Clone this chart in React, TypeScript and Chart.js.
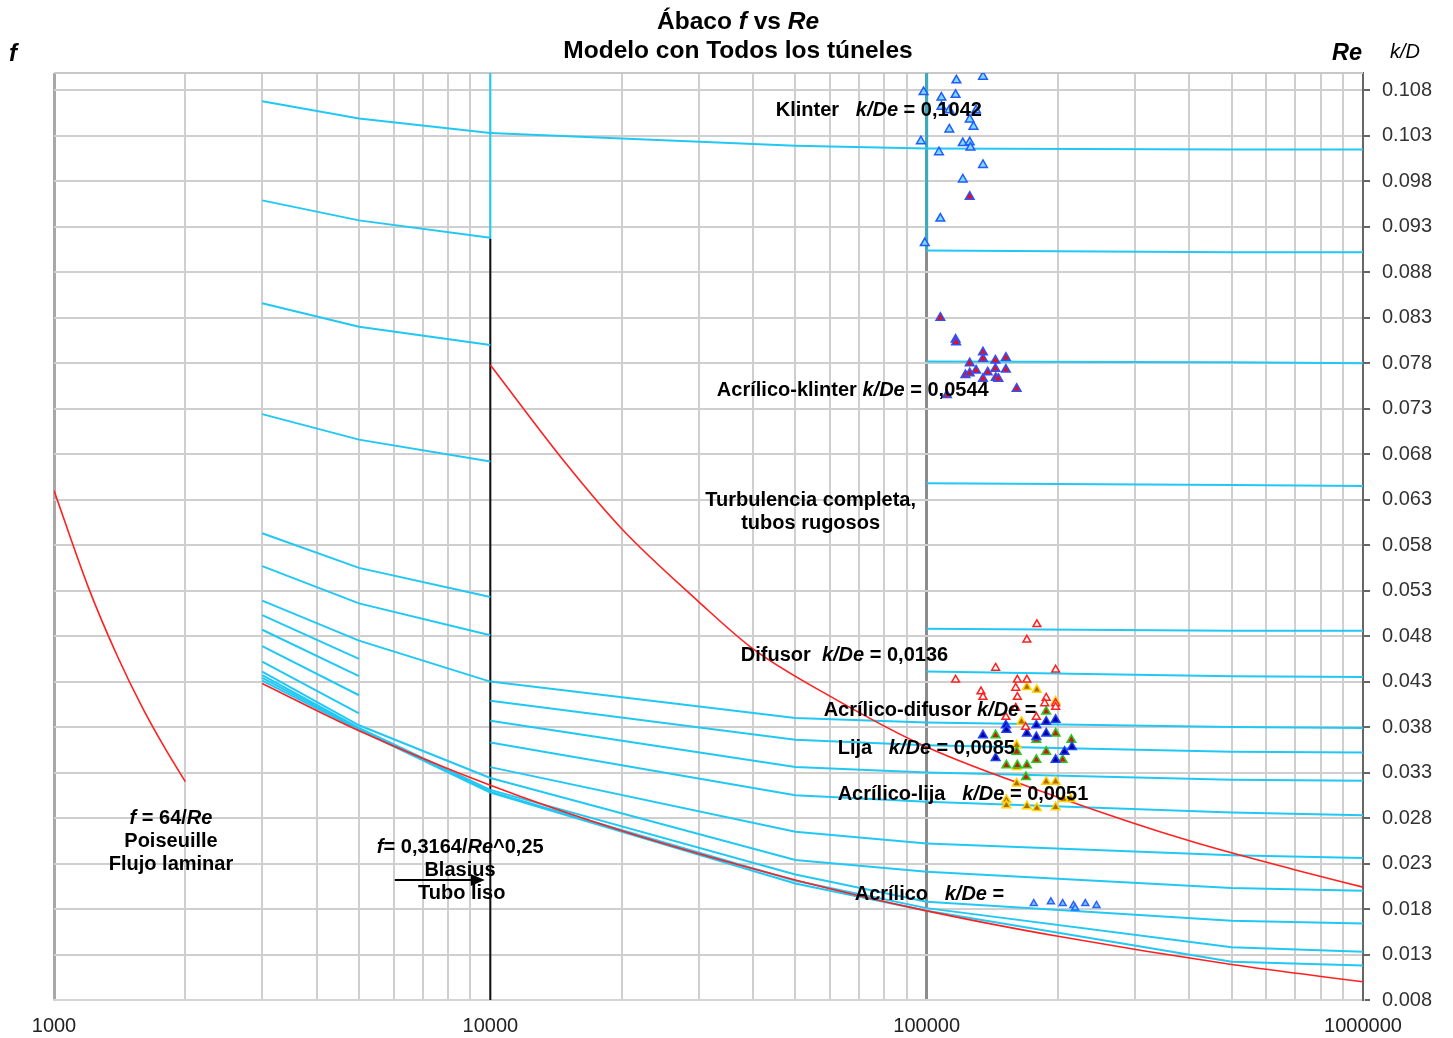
import { useEffect, useRef } from "react";
import { Chart, registerables } from "chart.js";

Chart.register(...registerables);

const FONT = '"Liberation Sans", Arial, Helvetica, sans-serif';

// ---------- axes ----------
const X_TICKS = [
  1000, 2000, 3000, 4000, 5000, 6000, 7000, 8000, 9000,
  10000, 20000, 30000, 40000, 50000, 60000, 70000, 80000, 90000,
  100000, 200000, 300000, 400000, 500000, 600000, 700000, 800000, 900000,
  1000000,
];
const X_LABELS = [1000, 10000, 100000, 1000000];
const Y_TICKS = [
  0.008, 0.013, 0.018, 0.023, 0.028, 0.033, 0.038, 0.043, 0.048, 0.053, 0.058,
  0.063, 0.068, 0.073, 0.078, 0.083, 0.088, 0.093, 0.098, 0.103, 0.108,
];
const Y_MIN = 0.008;
const Y_MAX = 0.1099;

// ---------- red reference curves ----------
const RE_POISEUILLE = [1000, 1200, 1400, 1600, 1800, 2000];
const F_POISEUILLE = [0.064, 0.0533, 0.0457, 0.04, 0.0356, 0.032];

const RE_BLASIUS = [3000, 5000, 10000, 20000, 50000, 100000, 200000, 500000, 1000000];
const F_BLASIUS = [0.0428, 0.0376, 0.0316, 0.0266, 0.0212, 0.0178, 0.015, 0.0119, 0.01];

const RE_BOUND = [10000, 15000, 20000, 30000, 40000, 60000, 100000, 200000, 400000, 700000, 1000000];
const F_BOUND = [0.0778, 0.0668, 0.0598, 0.0518, 0.0466, 0.0414, 0.0358, 0.0303, 0.0255, 0.0223, 0.0204];

// ---------- cyan curves, zone 3000-10000 ----------
const RE_A = [3000, 5000, 10000];
const F_A = [
  [0.1068, 0.1049, 0.1033],
  [0.0959, 0.0937, 0.0918],
  [0.0846, 0.082, 0.08],
  [0.0724, 0.0696, 0.0672],
  [0.0593, 0.0555, 0.0523],
  [0.0557, 0.0516, 0.0481],
  [0.0519, 0.0475, 0.043],
  [0.0441, 0.0382, 0.0324],
  [0.0437, 0.0379, 0.0311],
  [0.0434, 0.0378, 0.0309],
  [0.0431, 0.0377, 0.0308],
];
const RE_A_SHORT = [3000, 5000];
const F_A_SHORT = [
  [0.0503, 0.0455],
  [0.0487, 0.0436],
  [0.0469, 0.0415],
  [0.0452, 0.0395],
];

// ---------- cyan curves, zone 10000-100000 ----------
const RE_B = [10000, 50000, 100000];
const F_B = [
  [0.1033, 0.1019, 0.1016],
  [0.043, 0.039, 0.0385],
  [0.0409, 0.0366, 0.036],
  [0.0387, 0.0336, 0.033],
  [0.0363, 0.0305, 0.0298],
  [0.0336, 0.0265, 0.0252],
  [0.0324, 0.0234, 0.0221],
  [0.0311, 0.0218, 0.0188],
  [0.0309, 0.0211, 0.0181],
  [0.0308, 0.0208, 0.0178],
];

// ---------- cyan curves, zone 100000-1000000 ----------
const RE_C = [100000, 500000, 1000000];
const F_C = [
  [0.1016, 0.1015, 0.1015],
  [0.0904, 0.0902, 0.0902],
  [0.0782, 0.0781, 0.078],
  [0.0648, 0.0646, 0.0645],
  [0.0488, 0.0486, 0.0486],
  [0.0441, 0.0436, 0.0435],
  [0.0385, 0.038, 0.0379],
  [0.036, 0.0353, 0.0352],
  [0.033, 0.0322, 0.0321],
  [0.0298, 0.0286, 0.0283],
  [0.0252, 0.0239, 0.0236],
  [0.0221, 0.0203, 0.02],
  [0.0188, 0.0167, 0.0164],
  [0.0181, 0.0138, 0.0133],
  [0.0178, 0.0122, 0.0118],
];

// ---------- vertical separators ----------
const RE_WALL_1 = [10000, 10000];
const F_WALL_CYAN = [0.1099, 0.0917];
const F_WALL_BLACK = [0.0917, 0.008];
const RE_WALL_2 = [100000, 100000];
const F_WALL_TEAL = [0.1099, 0.0904];

// ---------- measured points ----------
const RE_KLINTER = [117000, 134600, 98400, 108100, 116500, 108100, 112700, 129800, 125500, 128000, 112700, 97000, 121000, 125500, 126000, 106700, 134600, 121000, 107500, 99000];
const F_KLINTER = [0.1091, 0.1095, 0.1078, 0.1072, 0.1075, 0.1062, 0.1058, 0.1058, 0.1048, 0.104, 0.1037, 0.1024, 0.1022, 0.1023, 0.1017, 0.1012, 0.0998, 0.0982, 0.0939, 0.0912];

const RE_ACR_KLINTER = [125500, 107500, 116500, 116800, 134600, 134600, 125500, 143700, 151900, 122700, 125500, 129800, 138000, 143700, 151900, 134600, 144000, 146000, 160800, 111300];
const F_ACR_KLINTER = [0.0963, 0.083, 0.0806, 0.0803, 0.0792, 0.0785, 0.078, 0.0783, 0.0786, 0.0767, 0.0769, 0.0772, 0.077, 0.0774, 0.0773, 0.0763, 0.0764, 0.0763, 0.0752, 0.0745];

const RE_DIFUSOR = [178900, 169700, 143900, 197500, 116500, 161400, 169700, 160000, 133200, 161400, 134600, 187900, 197500, 197500, 186400, 160000, 178400, 168600, 151900];
const F_DIFUSOR = [0.0493, 0.0476, 0.0445, 0.0443, 0.0432, 0.0432, 0.0432, 0.0423, 0.0419, 0.0413, 0.0413, 0.0412, 0.0406, 0.0402, 0.0406, 0.0401, 0.0391, 0.038, 0.0391];

const RE_ACR_DIFUSOR = [134600, 151900, 152300, 169700, 178400, 187900, 197500, 187900, 178400, 143900, 197500, 207000, 215300];
const F_ACR_DIFUSOR = [0.0371, 0.0382, 0.0377, 0.0373, 0.0382, 0.0386, 0.0388, 0.0373, 0.0369, 0.0346, 0.0344, 0.0353, 0.0358];

const RE_LIJA = [143900, 152300, 161400, 169700, 178400, 187900, 197500, 187900, 178400, 168900, 205000, 214600, 160800];
const F_LIJA = [0.0371, 0.0338, 0.0338, 0.0338, 0.0344, 0.0353, 0.0373, 0.0397, 0.0366, 0.0325, 0.0344, 0.0366, 0.0353];

const RE_ACR_LIJA = [169700, 178900, 197500, 164900, 160800, 160800, 160800, 187900, 197500, 152300, 152300, 169700, 178900, 197500, 206000, 213800];
const F_ACR_LIJA = [0.0424, 0.0421, 0.0408, 0.0386, 0.036, 0.0336, 0.0318, 0.032, 0.032, 0.03, 0.0294, 0.0293, 0.0291, 0.0292, 0.0301, 0.0301];

const RE_ACRILICO = [176000, 192600, 205000, 217000, 219000, 231000, 245000];
const F_ACRILICO = [0.0186, 0.0188, 0.0186, 0.0184, 0.0181, 0.0186, 0.0184];

// ---------- text ----------
type Run = [string, boolean];
type Note = { runs: Run[]; re: number; f: number; align: "left" | "center" };

const NOTES: Note[] = [
  { runs: [["Klinter   ", false], ["k/De", true], [" = 0,1042", false]], re: 45100, f: 0.1058, align: "left" },
  { runs: [["Acrílico-klinter ", false], ["k/De", true], [" = 0,0544", false]], re: 33050, f: 0.075, align: "left" },
  { runs: [["Turbulencia completa,", false]], re: 54200, f: 0.0629, align: "center" },
  { runs: [["tubos rugosos", false]], re: 54200, f: 0.0604, align: "center" },
  { runs: [["Difusor  ", false], ["k/De", true], [" = 0,0136", false]], re: 37500, f: 0.0459, align: "left" },
  { runs: [["Acrílico-difusor ", false], ["k/De", true], [" =", false]], re: 58060, f: 0.0398, align: "left" },
  { runs: [["Lija   ", false], ["k/De", true], [" = 0,0085", false]], re: 62520, f: 0.0357, align: "left" },
  { runs: [["Acrílico-lija   ", false], ["k/De", true], [" = 0,0051", false]], re: 62520, f: 0.0306, align: "left" },
  { runs: [["Acrílico   ", false], ["k/De", true], [" =", false]], re: 68400, f: 0.01965, align: "left" },
  { runs: [["f", true], [" = 64/", false], ["Re", true]], re: 1854, f: 0.028, align: "center" },
  { runs: [["Poiseuille", false]], re: 1854, f: 0.02547, align: "center" },
  { runs: [["Flujo laminar", false]], re: 1854, f: 0.02295, align: "center" },
  { runs: [["f", true], ["= 0,3164/", false], ["Re", true], ["^0,25", false]], re: 5495, f: 0.02481, align: "left" },
  { runs: [["Blasius", false]], re: 8520, f: 0.02229, align: "center" },
  { runs: [["Tubo liso", false]], re: 8600, f: 0.01976, align: "center" },
];
const ARROW_RE = [6040, 9710];
const ARROW_F = 0.0212;

function drawRuns(
  ctx: CanvasRenderingContext2D,
  runs: Run[],
  x: number,
  y: number,
  align: "left" | "center",
  size: number,
  bold: boolean,
  color = "#000"
) {
  const fontFor = (it: boolean) => `${it ? "italic " : ""}${bold ? "bold " : ""}${size}px ${FONT}`;
  let total = 0;
  for (const [t, it] of runs) {
    ctx.font = fontFor(it);
    total += ctx.measureText(t).width;
  }
  let cx = align === "center" ? x - total / 2 : x;
  ctx.textAlign = "left";
  ctx.textBaseline = "middle";
  ctx.fillStyle = color;
  for (const [t, it] of runs) {
    ctx.font = fontFor(it);
    ctx.fillText(t, cx, y);
    cx += ctx.measureText(t).width;
  }
}

const decorPlugin = {
  id: "decor",
  beforeDatasetsDraw(chart: any) {
    const { ctx, chartArea: a } = chart;
    ctx.save();
    ctx.strokeStyle = "#c8c8c8";
    ctx.lineWidth = 2;
    ctx.beginPath();
    ctx.moveTo(a.left, a.top);
    ctx.lineTo(a.right, a.top);
    ctx.stroke();
    ctx.restore();
  },
  afterDraw(chart: any) {
    const { ctx } = chart;
    const xs = chart.scales.x;
    const ys = chart.scales.y;
    ctx.save();
    // titles
    drawRuns(ctx, [["Ábaco ", false], ["f", true], [" vs ", false], ["Re", true]], 738, 22, "center", 24.5, true);
    drawRuns(ctx, [["Modelo con Todos los túneles", false]], 738, 51, "center", 24.5, true);
    drawRuns(ctx, [["f", true]], 9, 54, "left", 24, true);
    drawRuns(ctx, [["Re", true]], 1332, 54, "left", 23.5, true);
    drawRuns(ctx, [["k/D", true]], 1390, 52, "left", 20, false);
    // annotations
    for (const n of NOTES) {
      drawRuns(ctx, n.runs, xs.getPixelForValue(n.re), ys.getPixelForValue(n.f), n.align, 20, true);
    }
    // arrow
    const x0 = xs.getPixelForValue(ARROW_RE[0]);
    const x1 = xs.getPixelForValue(ARROW_RE[1]);
    const y = ys.getPixelForValue(ARROW_F);
    ctx.strokeStyle = "#000";
    ctx.fillStyle = "#000";
    ctx.lineWidth = 2;
    ctx.beginPath();
    ctx.moveTo(x0, y);
    ctx.lineTo(x1 - 8, y);
    ctx.stroke();
    ctx.beginPath();
    ctx.moveTo(x1, y);
    ctx.lineTo(x1 - 14, y - 6);
    ctx.lineTo(x1 - 14, y + 6);
    ctx.closePath();
    ctx.fill();
    ctx.restore();
  },
};

const CYAN = "#22c8f4";
const RED = "#ff2020";

function pts(xs: number[], ys: number[]) {
  return xs.map((x, i) => ({ x, y: ys[i] }));
}

function lineDs(xs: number[], ys: number[], color: string, width: number, extra: any = {}) {
  return {
    type: "line",
    data: pts(xs, ys),
    showLine: true,
    borderColor: color,
    backgroundColor: color,
    borderWidth: width,
    pointRadius: 0,
    pointHoverRadius: 0,
    fill: false,
    tension: 0,
    order: 5,
    ...extra,
  };
}

function pointDs(xs: number[], ys: number[], fill: string, border: string, radius: number) {
  return {
    type: "scatter",
    data: pts(xs, ys),
    showLine: false,
    pointStyle: "triangle",
    pointRadius: radius,
    pointBackgroundColor: fill,
    pointBorderColor: border,
    pointBorderWidth: 1.5,
    order: 0,
  };
}

export default function App() {
  const ref = useRef<HTMLCanvasElement | null>(null);
  useEffect(() => {
    document.body.style.margin = "0";
    const canvas = ref.current;
    if (!canvas) return;
    const datasets: any[] = [];
    F_A.forEach((f) => datasets.push(lineDs(RE_A, f, CYAN, 2)));
    F_A_SHORT.forEach((f) => datasets.push(lineDs(RE_A_SHORT, f, CYAN, 2)));
    F_B.forEach((f) => datasets.push(lineDs(RE_B, f, CYAN, 2)));
    F_C.forEach((f) => datasets.push(lineDs(RE_C, f, CYAN, 2)));
    datasets.push(lineDs(RE_WALL_1, F_WALL_CYAN, CYAN, 2));
    datasets.push(lineDs(RE_WALL_1, F_WALL_BLACK, "#111", 2));
    datasets.push(lineDs(RE_WALL_2, F_WALL_TEAL, "#3aa9c2", 3));
    datasets.push(lineDs(RE_POISEUILLE, F_POISEUILLE, RED, 1.6, { cubicInterpolationMode: "monotone", order: 4 }));
    datasets.push(lineDs(RE_BLASIUS, F_BLASIUS, RED, 1.6, { cubicInterpolationMode: "monotone", order: 4 }));
    datasets.push(lineDs(RE_BOUND, F_BOUND, RED, 1.6, { cubicInterpolationMode: "monotone", order: 4 }));
    datasets.push(pointDs(RE_KLINTER, F_KLINTER, "#7fd8ff", "#1f5cff", 5));
    datasets.push(pointDs(RE_ACR_KLINTER, F_ACR_KLINTER, "#e81010", "#3050ff", 5));
    datasets.push(pointDs(RE_DIFUSOR, F_DIFUSOR, "#ffffff", "#ff2020", 4.5));
    datasets.push(pointDs(RE_ACR_DIFUSOR, F_ACR_DIFUSOR, "#000090", "#2040ff", 5));
    datasets.push(pointDs(RE_LIJA, F_LIJA, "#e01010", "#20d020", 5));
    datasets.push(pointDs(RE_ACR_LIJA, F_ACR_LIJA, "#b06a00", "#ffd400", 5));
    datasets.push(pointDs(RE_ACRILICO, F_ACRILICO, "#6cd0ff", "#3060ff", 4));

    const chart = new Chart(canvas, {
      type: "scatter",
      data: { datasets },
      plugins: [decorPlugin],
      options: {
        responsive: false,
        animation: false,
        devicePixelRatio: 1,
        layout: { padding: { left: 54, top: 73, right: 0, bottom: 0 } },
        plugins: { legend: { display: false }, tooltip: { enabled: false }, title: { display: false } },
        scales: {
          x: {
            type: "logarithmic",
            min: 1000,
            max: 1000000,
            afterBuildTicks: (s: any) => {
              s.ticks = X_TICKS.map((v) => ({ value: v }));
            },
            afterFit: (s: any) => {
              s.height = 38;
            },
            ticks: {
              autoSkip: false,
              maxRotation: 0,
              padding: 14,
              color: "#222",
              font: { family: FONT, size: 20 },
              callback: (v: any) => (X_LABELS.includes(Number(v)) ? String(v) : ""),
            },
            grid: {
              drawTicks: false,
              color: (c: any) => {
                const v = c.tick ? c.tick.value : 0;
                if (v === 1000) return "#a8a8a8";
                if (v === 100000) return "#8c8c8c";
                if (v === 1000000) return "#666";
                return "#cfcfcf";
              },
              lineWidth: (c: any) => {
                const v = c.tick ? c.tick.value : 0;
                return v === 1000 || v === 100000 ? 3 : 2;
              },
            },
            border: { display: true, color: "#d4d4d4", width: 2 },
          },
          y: {
            type: "linear",
            position: "right",
            min: Y_MIN,
            max: Y_MAX,
            afterBuildTicks: (s: any) => {
              s.ticks = Y_TICKS.map((v) => ({ value: v }));
            },
            afterFit: (s: any) => {
              s.width = 90;
            },
            ticks: {
              padding: 12,
              color: "#333",
              font: { family: FONT, size: 20 },
              callback: (v: any) => Number(v).toFixed(3),
            },
            grid: {
              color: "#cfcfcf",
              lineWidth: 2,
              drawTicks: true,
              tickLength: 7,
              tickColor: "#333",
              tickWidth: 1.5,
            },
            border: { display: true, color: "#666", width: 2 },
          },
        },
      } as any,
    } as any);
    return () => chart.destroy();
  }, []);
  return (
    <div style={{ width: 1453, height: 1038, background: "#fff" }}>
      <canvas ref={ref} width={1453} height={1038} style={{ display: "block" }} />
    </div>
  );
}
